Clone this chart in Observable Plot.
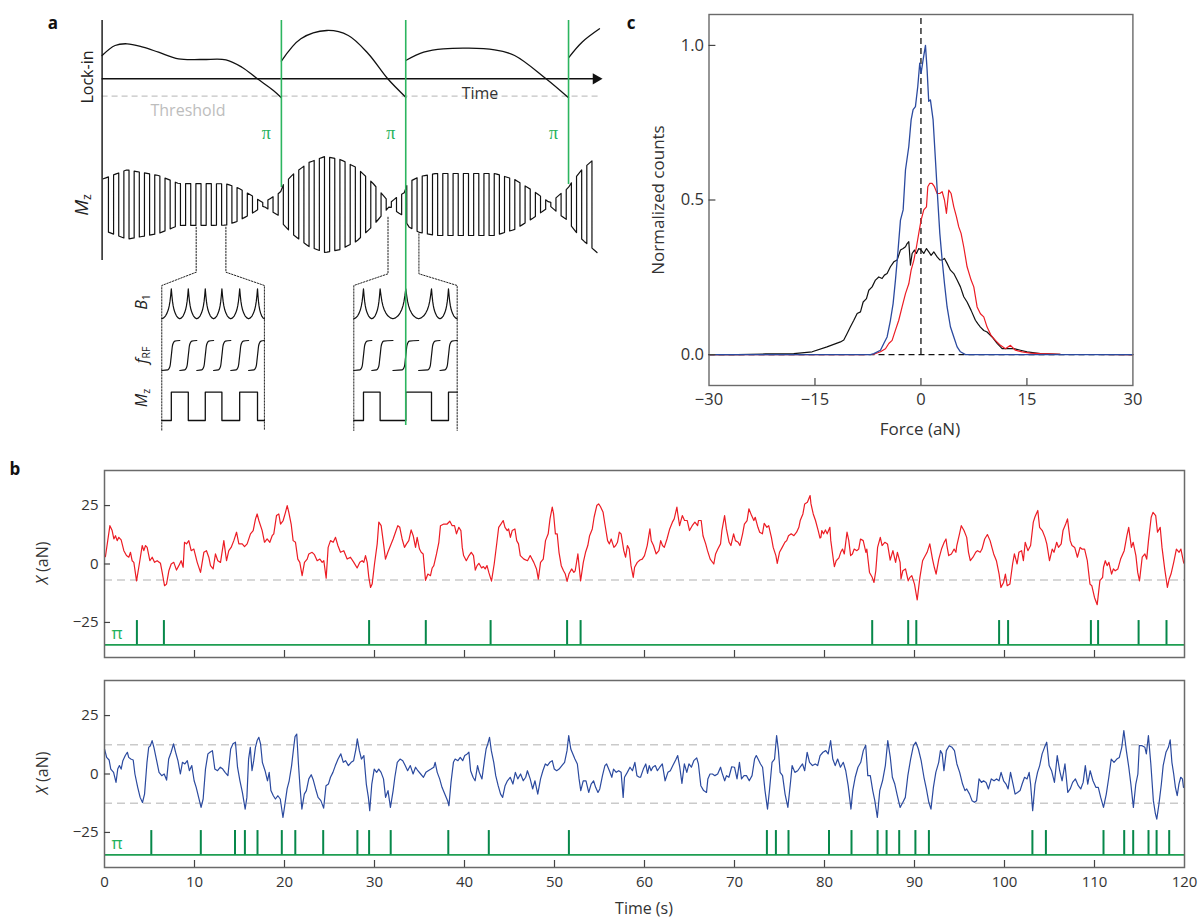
<!DOCTYPE html>
<html><head><meta charset="utf-8">
<script src="https://cdn.jsdelivr.net/npm/d3@7"></script>
<script src="https://cdn.jsdelivr.net/npm/@observablehq/plot@0.6"></script>
<style>
body{margin:0;background:#fff;}
#fig{position:relative;width:1198px;height:919px;overflow:hidden;font-family:"Open Sans",sans-serif;color:#333;background:#fff;}
.lab{position:absolute;white-space:nowrap;transform:translate(-50%,-50%);line-height:1;}
.rot{transform:translate(-50%,-50%) rotate(-90deg);}
.pl{font-weight:bold;font-size:17px;color:#111;}
sub{font-size:65%;vertical-align:-0.25em;font-style:normal;}
</style></head><body><div id="fig"></div>
<script>
// ---------------- DATA ----------------
// Panel b: force traces (time s, X aN)
const redA = [[0.1,3.1],[0.6,16.4],[0.85,14.3],[1.04,10.7],[1.22,12.1],[1.41,10.0],[1.59,11.4],[1.85,10.3],[2.15,5.7],[2.44,3.6],[2.7,2.9],[2.89,5.0],[3.07,1.4],[3.26,0.7],[3.56,-7.2],[3.81,-1.4],[4.19,7.9],[4.37,5.7],[4.56,7.9],[4.74,7.1],[5.04,1.4],[5.3,2.9],[5.56,0.7],[5.85,1.4],[6.22,0.3],[6.41,-3.6],[6.67,-9.3],[6.89,-8.6],[7.15,-2.9],[7.41,0],[7.7,0.7],[8.0,-2.6],[8.26,-0.7],[8.52,1.4],[8.74,-1.4],[8.89,9.3],[9.11,8.6],[9.37,10.0],[9.63,5.7],[9.93,6.4],[10.3,0.7],[10.67,-3.6],[11.04,5.0],[11.33,5.7],[11.59,2.9],[11.78,-0.7],[12.07,-2.1],[12.33,4.3],[12.59,1.4],[12.89,0.7],[13.26,10.0],[13.56,1.4],[13.81,5.7],[14.07,7.1],[14.37,10.0],[14.67,13.6],[14.93,8.6],[15.3,8.6],[15.56,7.4],[15.85,8.6],[16.22,12.9],[16.52,14.3],[16.78,19.3],[16.96,21.4],[17.15,18.6],[17.52,14.3],[17.78,9.3],[18.07,10.7],[18.37,9.3],[18.63,12.1],[18.81,12.9],[19.11,20.7],[19.37,21.4],[19.56,17.1],[19.85,18.6],[20.11,22.1],[20.3,25.0],[20.48,22.1],[20.74,17.1],[20.96,10.0],[21.22,9.3],[21.48,2.1],[21.7,0.7],[21.96,-5.0],[22.22,0.7],[22.52,2.1],[22.7,4.3],[23.07,5.0],[23.33,4.0],[23.63,1.4],[23.93,2.1],[24.19,0.7],[24.37,1.4],[24.63,-6.1],[24.85,7.1],[25.11,10.0],[25.41,9.3],[25.67,11.4],[25.93,7.9],[26.22,5.0],[26.59,5.7],[26.96,2.1],[27.33,2.9],[27.7,0.7],[28.07,-1.7],[28.37,0.7],[28.63,1.4],[28.81,0.7],[29.0,3.6],[29.19,0.7],[29.37,-5.7],[29.56,-10.0],[29.74,-8.6],[30.0,0],[30.3,8.6],[30.48,17.9],[30.74,16.4],[30.96,10.0],[31.22,2.1],[31.48,5.0],[31.78,7.9],[32.07,10.7],[32.33,13.6],[32.59,16.4],[32.81,15.7],[33.07,10.7],[33.33,7.1],[33.56,8.6],[33.81,10.0],[34.07,14.6],[34.3,12.1],[34.56,7.1],[34.74,11.4],[35.0,6.4],[35.19,5.0],[35.41,4.3],[35.67,-7.0],[35.93,-4.3],[36.22,-5.0],[36.41,-1.7],[36.59,-0.7],[36.89,4.3],[37.15,9.3],[37.33,16.4],[37.7,17.1],[38.07,17.1],[38.37,18.3],[38.63,16.4],[38.89,16.4],[39.11,12.9],[39.37,15.7]];
const redB = [[39.6,14.3],[39.75,7.1],[39.9,3.6],[40.2,1.4],[40.5,3.6],[40.75,5.0],[41.0,3.6],[41.2,-2.6],[41.4,-0.7],[41.6,0.3],[41.9,-1.7],[42.1,-1.1],[42.3,-2.1],[42.5,-0.7],[42.7,-3.6],[43.0,-7.3],[43.3,0],[43.6,9.3],[43.8,15.7],[44.1,17.4],[44.3,18.6],[44.5,15.7],[44.75,14.3],[44.9,15.0],[45.1,11.4],[45.3,14.3],[45.6,15.0],[45.8,10.0],[46.0,8.6],[46.2,3.6],[46.6,2.1],[47.0,1.4],[47.3,3.6],[47.7,0.7],[48.0,-2.1],[48.2,-6.5],[48.45,0.7],[48.75,2.1],[49.0,10.0],[49.3,12.9],[49.5,19.3],[49.75,24.3],[49.9,21.4],[50.1,12.9],[50.3,12.9],[50.5,5.0],[50.75,-0.7],[51.0,-2.9],[51.2,-4.3],[51.4,-7.4],[51.6,-4.3],[51.9,-2.1],[52.15,-3.6],[52.3,-2.9],[52.6,4.3],[52.9,-7.2],[53.2,0.7],[53.45,5.0],[53.7,7.9],[53.9,12.1],[54.2,15.0],[54.4,20.0],[54.7,25.0],[54.9,25.7],[55.1,24.6],[55.4,22.1],[55.6,17.1],[55.9,10.0],[56.1,8.6],[56.3,10.7],[56.6,7.1],[56.8,7.9],[57.0,9.3],[57.2,13.6],[57.4,12.9],[57.7,5.7],[57.9,2.9],[58.1,7.9],[58.3,6.4],[58.5,-0.7],[58.75,-5.7],[58.9,-1.4],[59.2,0.7],[59.5,1.7],[59.75,2.1],[60.0,3.6],[60.3,7.9],[60.6,15.0],[60.75,10.0],[61.0,7.9],[61.3,4.3],[61.6,5.7],[61.8,10.0],[62.0,7.9],[62.2,7.1],[62.5,10.7],[62.8,15.0],[63.1,17.9],[63.3,19.3],[63.6,24.3],[63.7,21.4],[63.9,16.4],[64.2,20.7],[64.45,18.6],[64.75,18.6],[65.0,14.3],[65.3,16.4],[65.6,17.9],[65.9,16.4],[66.0,18.6],[66.3,18.6],[66.5,12.1],[66.8,8.6],[67.0,5.7],[67.3,2.1],[67.7,0],[67.9,4.3],[68.15,6.4],[68.45,8.6],[68.6,14.3],[68.9,20.7],[69.1,15.0],[69.4,9.3],[69.6,7.9],[69.9,12.9],[70.1,10.0],[70.4,9.3],[70.6,7.9],[70.9,12.9],[71.1,17.1],[71.4,18.6],[71.6,23.6],[71.9,20.7],[72.15,18.6],[72.3,20.0],[72.6,15.7],[72.8,13.6],[73.1,12.9],[73.3,17.4],[73.6,15.7],[73.8,16.4],[74.1,11.4],[74.3,7.1],[74.6,3.6],[74.75,0.3],[75.0,5.0],[75.3,7.1],[75.6,9.3],[75.8,10.0],[76.0,12.1],[76.3,12.9],[76.6,12.1],[76.9,13.6],[77.15,15.7],[77.3,18.6],[77.6,21.4],[77.8,25.7],[78.1,26.4],[78.4,29.3],[78.5,25.7],[78.75,21.4],[79.0,18.6],[79.3,14.3],[79.5,11.1]];
const redC = [[79.6,11.4],[79.7,14.3],[79.9,12.9],[80.1,14.6],[80.3,12.9],[80.6,15.7],[80.7,10.0],[81.0,1.4],[81.1,-1.1],[81.3,1.4],[81.6,2.6],[81.8,5.0],[82.0,6.4],[82.2,4.3],[82.5,13.6],[82.7,10.0],[82.9,3.6],[83.1,4.3],[83.3,6.4],[83.6,5.7],[83.8,6.4],[84.0,10.7],[84.3,10.0],[84.6,5.0],[84.7,6.4],[85.0,-3.6],[85.3,-5.7],[85.5,-7.9],[85.7,-2.9],[85.9,7.1],[86.2,11.4],[86.4,7.9],[86.7,9.3],[87.0,8.6],[87.3,1.7],[87.6,5.7],[87.9,0.7],[88.1,5.0],[88.4,0.7],[88.5,-6.4],[88.7,-2.9],[89.0,-2.1],[89.3,-7.2],[89.5,-5.7],[89.7,-5.0],[90.0,-8.6],[90.3,-15.4],[90.6,-5.7],[90.9,1.4],[91.1,2.9],[91.4,5.0],[91.7,8.6],[92.0,2.1],[92.2,-1.4],[92.4,-4.3],[92.7,2.1],[93.0,6.4],[93.3,9.3],[93.5,10.7],[93.6,7.9],[93.8,3.6],[94.1,4.3],[94.4,6.4],[94.6,5.0],[94.7,7.9],[95.0,12.9],[95.2,16.4],[95.5,14.3],[95.8,11.4],[96.0,5.0],[96.2,1.4],[96.5,2.9],[96.8,5.0],[97.0,5.7],[97.3,5.0],[97.5,6.4],[97.8,10.7],[98.1,12.6],[98.4,10.0],[98.6,7.1],[98.8,4.3],[99.1,1.4],[99.4,-4.3],[99.6,-10.0],[99.9,-7.9],[100.1,-4.3],[100.3,-9.3],[100.6,-8.6],[100.9,0],[101.1,4.3],[101.4,0],[101.6,5.0],[101.9,5.7],[102.1,1.4],[102.3,9.3],[102.6,5.7],[102.9,7.9],[103.2,17.9],[103.4,20.3],[103.7,22.9],[103.9,15.7],[104.2,14.3],[104.5,11.4],[104.7,8.6],[105.0,1.4],[105.3,6.4],[105.5,5.0],[105.8,9.3],[106.0,7.1],[106.3,8.6],[106.5,14.3],[106.8,17.1],[107.0,19.3],[107.3,10.0],[107.5,7.9],[107.8,7.1],[108.1,2.9],[108.4,7.1],[108.6,6.4],[108.9,6.4],[109.2,1.4],[109.5,-8.6],[109.7,-9.3],[110.0,-14.3],[110.3,-17.4],[110.6,-7.1],[110.9,-5.7],[111.0,-1.4],[111.2,1.4],[111.4,-0.7],[111.6,0.7],[111.9,-4.3],[112.1,-2.1],[112.3,-2.9],[112.6,-2.1],[112.9,2.1],[113.3,5.7],[113.6,12.1],[113.8,15.7],[114.1,7.1],[114.3,9.3],[114.6,3.6],[114.8,-3.6],[115.0,-7.2],[115.3,2.9],[115.6,4.3],[115.8,2.1],[116.0,10.0],[116.3,20.0],[116.5,22.1],[116.8,20.7],[117.0,13.6],[117.3,15.7],[117.5,7.1],[117.8,-2.1],[118.1,-10.0],[118.3,-6.4],[118.5,-4.3],[118.8,0.7],[119.1,6.4],[119.4,5.0],[119.6,6.4],[119.9,0.7],[120.0,0]];
const blueA = [[0.0,10.7],[0.24,7.1],[0.51,6.0],[0.7,2.1],[1.01,0.7],[1.28,-3.6],[1.47,2.1],[1.66,3.6],[1.85,2.1],[2.04,5.7],[2.31,7.9],[2.54,9.3],[2.69,7.1],[2.92,6.4],[3.19,6.0],[3.38,0],[3.69,-5.7],[3.96,-10.0],[4.22,-12.2],[4.45,-8.6],[4.72,5.0],[4.91,11.4],[5.1,12.1],[5.29,14.3],[5.49,11.4],[5.76,6.4],[6.06,0.7],[6.36,-0.7],[6.63,0],[6.9,-2.6],[7.13,6.4],[7.4,9.3],[7.67,12.9],[7.9,9.3],[8.16,5.7],[8.43,0],[8.66,5.0],[8.93,4.3],[9.2,5.7],[9.43,1.4],[9.7,3.6],[9.96,-2.9],[10.19,-5.7],[10.46,-10.0],[10.73,-14.3],[10.96,-10.7],[11.22,2.1],[11.49,8.6],[11.72,9.3],[11.99,10.0],[12.26,2.1],[12.56,1.4],[12.87,2.9],[13.14,2.1],[13.4,0.7],[13.71,-0.7],[14.02,10.7],[14.28,12.9],[14.55,13.6],[14.78,2.9],[15.05,-2.9],[15.32,-7.9],[15.63,-15.0],[15.82,-10.0],[16.01,6.4],[16.2,11.4],[16.39,1.4],[16.58,5.7],[16.77,11.4],[16.96,14.3],[17.15,15.7],[17.34,12.9],[17.54,5.0],[17.84,1.4],[18.11,-2.9],[18.3,0.7],[18.49,-7.1],[18.76,-9.3],[18.99,-10.7],[19.26,-9.3],[19.53,-10.7],[19.83,-18.6],[20.02,-13.6],[20.29,-6.4],[20.52,-2.9],[20.79,3.6],[20.98,10.0],[21.17,16.0],[21.36,17.1],[21.55,4.3],[21.74,-6.4],[21.93,-15.0],[22.2,-8.6],[22.43,-7.1],[22.7,-2.1],[22.97,-0.3],[23.2,-2.6],[23.46,-6.4],[23.73,-10.0],[24.04,-11.4],[24.35,-14.6],[24.61,-5.0],[24.88,-4.3],[25.11,-1.4],[25.38,0.7],[25.65,3.6],[25.95,6.4],[26.26,8.6],[26.53,5.0],[26.79,5.7],[27.1,3.6],[27.41,5.0],[27.68,5.7],[27.94,10.7],[28.09,15.0],[28.32,10.0],[28.55,6.4],[28.82,7.9],[29.09,-4.3],[29.32,-10.0],[29.47,-15.7],[29.7,-4.3],[29.97,2.1],[30.24,0.7],[30.47,2.1],[30.73,0.7],[31.0,-2.1],[31.23,-10.0],[31.5,-7.1],[31.77,-14.3],[32.07,-7.1],[32.26,-1.4],[32.53,5.0],[32.84,6.4],[33.14,5.7],[33.41,3.6],[33.68,1.4],[33.98,3.6],[34.29,0],[34.56,2.9],[34.82,1.4],[35.13,0],[35.44,-1.4],[35.71,0.7],[35.97,1.4],[36.28,2.1],[36.59,2.9],[36.74,5.0],[36.97,0.7],[37.24,-2.1],[37.5,-5.7],[37.81,-8.6],[38.12,-11.4],[38.27,-13.6],[38.5,-3.6],[38.77,5.0],[38.96,6.4],[39.27,5.7],[39.53,7.1],[39.8,5.7],[40.03,7.9],[40.3,8.6],[40.49,9.3],[40.68,1.4],[40.95,-1.4],[41.18,-2.9],[41.45,3.6],[41.64,0.7],[41.94,-2.1],[42.21,5.7],[42.4,10.7],[42.59,12.9],[42.78,15.7],[42.98,10.0],[43.25,5.0],[43.47,-0.7],[43.74,-5.0],[44.01,-8.6],[44.24,-10.0],[44.51,-5.0],[44.77,-2.9],[45.08,-1.4],[45.38,-4.3],[45.65,0.7],[45.92,-2.1],[46.23,0],[46.53,-2.9],[46.8,-1.4],[46.99,1.4],[47.3,-2.1],[47.57,-6.4],[47.83,-2.9],[48.14,-8.6],[48.45,-2.1],[48.71,1.4],[48.98,4.3],[49.21,3.6],[49.48,5.0],[49.75,5.7],[49.98,2.1],[50.24,1.4],[50.51,2.1],[50.82,3.6],[51.12,5.0],[51.39,10.0],[51.58,16.4],[51.81,10.7],[52.04,8.6],[52.27,6.4],[52.54,4.3],[52.73,-2.1],[52.92,-7.1],[53.19,-2.9],[53.5,-2.9],[53.8,-7.9],[54.07,-4.3],[54.34,-2.9],[54.57,-5.7],[54.83,-7.9],[55.03,-6.4],[55.33,-0.7],[55.6,3.6],[55.79,4.3],[56.1,1.4],[56.37,-1.4],[56.56,2.1],[56.86,0.7],[57.13,1.4],[57.4,0.7],[57.63,-10.0],[57.78,-1.4],[58.09,0.7],[58.39,2.9],[58.66,1.4],[58.93,5.0],[59.16,-0.7],[59.43,-1.4]];
const blueB = [[59.56,-1.4],[59.87,2.1],[60.14,4.3],[60.34,0.3],[60.53,3.6],[60.73,1.4],[60.92,2.9],[61.2,3.6],[61.43,1.4],[61.7,2.9],[61.98,4.3],[62.29,-2.9],[62.6,0.7],[62.87,1.4],[63.15,3.6],[63.46,6.0],[63.69,7.9],[63.92,2.9],[64.16,-4.0],[64.43,4.3],[64.7,0.7],[64.94,4.3],[65.21,2.9],[65.48,5.7],[65.8,6.9],[65.99,4.3],[66.26,-5.0],[66.57,-7.1],[66.89,-7.9],[67.04,-2.1],[67.28,0],[67.55,0],[67.82,-0.7],[68.13,0],[68.45,2.9],[68.6,0.7],[68.91,-2.9],[69.11,-0.7],[69.38,-1.4],[69.69,3.1],[70.0,2.9],[70.28,-2.1],[70.55,5.0],[70.78,-2.1],[71.06,-0.7],[71.33,-0.7],[71.64,-2.9],[71.95,-0.7],[72.23,6.4],[72.42,7.9],[72.62,6.4],[72.89,4.3],[73.12,2.9],[73.39,-7.1],[73.67,-15.0],[73.9,-6.4],[74.17,5.0],[74.45,6.4],[74.68,16.4],[74.88,10.0],[75.07,0.7],[75.34,-0.7],[75.62,-8.6],[75.93,-14.3],[76.24,-2.9],[76.4,3.6],[76.71,0.7],[77.02,1.4],[77.29,2.9],[77.56,4.3],[77.8,1.4],[78.07,9.3],[78.34,5.0],[78.66,3.6],[78.97,4.3],[79.24,3.6],[79.51,7.9],[79.83,9.3],[80.14,10.0],[80.41,8.6],[80.68,14.3],[80.92,6.4],[81.19,3.6],[81.46,6.4],[81.77,2.9],[82.09,5.0],[82.36,1.4],[82.63,-5.0],[82.94,-15.0],[83.14,-7.1],[83.41,-1.4],[83.72,2.9],[84.03,5.0],[84.31,10.0],[84.58,12.3],[84.81,-0.7],[85.09,-0.7],[85.36,-7.1],[85.59,-11.4],[85.87,-18.6],[86.14,-7.1],[86.45,-2.9],[86.76,3.6],[87.03,14.3],[87.31,7.1],[87.54,-1.4],[87.81,-4.3],[88.09,-9.3],[88.4,-14.3],[88.71,-12.1],[88.98,-10.0],[89.26,-0.7],[89.57,6.4],[89.88,12.1],[90.15,13.6],[90.43,10.7],[90.74,5.7],[91.05,-1.4],[91.32,-6.4],[91.59,-12.1],[91.83,-15.0],[92.1,-5.7],[92.37,0.7],[92.69,5.0],[92.88,10.0],[93.08,8.6],[93.27,1.4],[93.54,10.0],[93.85,12.1],[94.17,11.4],[94.44,10.0],[94.71,4.3],[95.02,0.7],[95.34,-4.3],[95.61,-7.1],[95.8,-6.4],[96.12,-8.6],[96.39,-11.4],[96.66,-12.1],[96.9,-11.4],[97.17,-2.1],[97.44,-3.6],[97.67,-2.9],[97.95,-3.6],[98.22,-6.4],[98.53,-2.1],[98.84,-2.9],[99.12,-2.1],[99.39,-2.9],[99.62,0.7],[99.9,-2.9],[100.17,-4.3],[100.4,-6.4],[100.67,0.7],[100.95,-4.3],[101.18,-8.6],[101.45,-7.9],[101.73,-7.1],[101.96,-4.3],[102.23,-1.4],[102.51,-2.1],[102.74,0.7],[102.9,-4.3],[103.13,-15.7],[103.4,-4.3],[103.67,0.7],[103.91,3.6],[104.18,8.6],[104.45,11.4],[104.69,13.6],[104.96,3.6],[105.23,1.4],[105.55,-3.6],[105.86,7.9],[106.13,1.4],[106.4,-2.9],[106.72,4.3],[107.03,-7.9],[107.3,-6.4],[107.57,-3.6],[107.88,-2.1],[108.2,-5.0],[108.47,-6.4],[108.74,-3.6],[108.98,3.6],[109.25,-4.3],[109.52,1.4],[109.83,-2.9],[110.15,-5.7],[110.42,-5.7],[110.69,-10.0],[111.0,-14.3],[111.31,-8.6],[111.59,-1.4],[111.86,6.4],[112.17,5.0],[112.48,6.4],[112.76,7.1],[113.03,11.4],[113.26,18.6],[113.54,10.0],[113.81,2.9],[114.04,-4.3],[114.32,-14.3],[114.59,-4.3],[114.82,0],[114.98,12.1],[115.29,12.1],[115.6,11.4],[115.76,8.6],[115.99,16.4],[116.26,4.3],[116.54,-11.4],[116.77,-17.1],[116.92,-19.3],[117.16,-12.9],[117.43,-4.3],[117.63,3.6],[117.94,9.3],[118.21,11.4],[118.41,14.6],[118.6,5.0],[118.8,0],[118.99,-5.7],[119.19,-9.3],[119.38,-4.3],[119.58,-1.4],[119.77,-2.1],[119.89,-5.7]];
const pulsesRed = [3.6,6.6,29.4,35.7,42.9,51.4,52.9,85.3,89.3,90.2,99.4,100.4,109.6,110.4,114.9,118.0];
const pulsesBlue = [5.2,10.7,14.5,15.6,17.0,19.7,21.2,24.3,28.1,29.4,31.8,38.2,42.7,51.6,73.6,74.6,76.0,80.5,83.0,85.9,86.9,88.3,90.1,91.6,103.1,104.6,111.0,113.3,114.3,116.0,116.9,118.3];
const thresholdRed = [-6.8];
const thresholdBlue = [12.5, -12.5];
const pulseBase = -34.6, pulseTop = -24.2;
const bTimeTicks = [0,10,20,30,40,50,60,70,80,90,100,110,120];
const bValueTicks = [-25,0,25];

// Panel c: histograms (force aN, normalized counts)
const histBlack = [[-30,0],[-26,0],[-22,0.002],[-18,0.003],[-15.4,0.009],[-13.3,0.025],[-11.39,0.041],[-10.92,0.047],[-10.45,0.068],[-9.98,0.09],[-9.5,0.111],[-9.03,0.133],[-8.56,0.138],[-8.18,0.17],[-7.71,0.181],[-7.38,0.208],[-6.91,0.219],[-6.44,0.241],[-5.97,0.251],[-5.5,0.246],[-5.17,0.257],[-4.79,0.262],[-4.32,0.284],[-3.84,0.3],[-3.37,0.306],[-2.9,0.338],[-2.52,0.343],[-2.19,0.349],[-1.96,0.359],[-1.72,0.365],[-1.49,0.289],[-1.25,0.327],[-0.92,0.338],[-0.64,0.327],[-0.31,0.343],[0.02,0.338],[0.4,0.327],[0.78,0.343],[1.11,0.332],[1.44,0.321],[1.82,0.332],[2.29,0.316],[2.67,0.306],[3.0,0.306],[3.33,0.311],[3.7,0.295],[4.17,0.273],[4.65,0.262],[5.12,0.241],[5.59,0.219],[6.06,0.187],[6.53,0.17],[7.1,0.143],[7.71,0.111],[8.04,0.1],[8.42,0.089],[8.89,0.078],[9.36,0.073],[10.07,0.057],[10.78,0.036],[11.49,0.019],[12.19,0.019],[13.14,0.019],[14.08,0.014],[15.02,0.009],[16.91,0.003],[19.74,0.001],[30,0]];
const histRed = [[-30,0],[-8,0],[-6.67,0.001],[-5.73,0.009],[-5.02,0.019],[-4.55,0.036],[-4.08,0.046],[-3.61,0.079],[-3.14,0.111],[-2.67,0.154],[-2.19,0.197],[-1.72,0.229],[-1.39,0.273],[-1.01,0.305],[-0.64,0.348],[-0.31,0.392],[0.02,0.435],[0.4,0.468],[0.78,0.478],[0.97,0.543],[1.25,0.554],[1.58,0.554],[1.91,0.543],[2.29,0.521],[2.67,0.521],[3.0,0.527],[3.33,0.5],[3.61,0.457],[3.94,0.532],[4.27,0.521],[4.65,0.478],[5.02,0.446],[5.35,0.413],[5.68,0.392],[6.06,0.348],[6.53,0.284],[7.1,0.241],[7.48,0.219],[7.95,0.154],[8.42,0.132],[8.89,0.122],[9.36,0.089],[9.93,0.062],[10.54,0.046],[11.25,0.03],[11.96,0.019],[12.67,0.03],[13.37,0.014],[14.32,0.009],[15.5,0.005],[16.91,0.003],[19.74,0.001],[30,0]];
const histBlue = [[-30,0],[-7.15,0],[-6.67,0.003],[-5.73,0.014],[-5.26,0.036],[-4.79,0.057],[-4.32,0.111],[-3.94,0.165],[-3.61,0.241],[-3.28,0.327],[-2.9,0.435],[-2.52,0.468],[-2.19,0.597],[-1.72,0.673],[-1.39,0.759],[-1.11,0.792],[-0.78,0.802],[-0.45,0.867],[-0.17,0.943],[0.02,0.91],[0.31,0.954],[0.64,1.0],[0.87,0.921],[1.1,0.819],[1.34,0.824],[1.72,0.759],[2.05,0.63],[2.38,0.5],[2.67,0.392],[3.0,0.306],[3.33,0.23],[3.7,0.154],[4.17,0.09],[4.65,0.057],[5.12,0.025],[5.59,0.009],[6.3,0],[30,0]];
const cForceTicks = [-30,-15,0,15,30];
const cCountTicks = [0,0.5,1];

// Panel a: schematic (tau = arbitrary time units, level = vertical position units)
const lockinSegs = [
  [[0,55],[2.6,45],[5,43.3],[8.2,46.7],[11.3,51.7],[15.3,58.3],[20,59],[24.8,59.3],[28,66.7],[31.1,78.3],[34.3,90],[35.9,97.3]],
  [[35.9,60.7],[39.8,38.3],[45,30],[49.3,35],[53.3,53.3],[57.2,78.3],[60.8,96.7]],
  [[60.8,60],[64.4,51.7],[68.3,48.3],[78.6,49.3],[82.6,55],[88.9,78.3],[93.4,97.3]],
  [[93.4,57.3],[96.1,41.7],[99.6,28.3]]
];
const piPulses = [{t:35.9,end:187},{t:60.8,end:425},{t:93.4,end:184}];
const mzEnv = [[0.24,25.7],[5,34.7],[11.3,29],[15.3,21],[24.8,20.7],[27.2,16.7],[30.3,8],[32.3,1.5],[34.3,8],[35.7,12],[36.3,20],[38.2,30],[41.4,42],[44.6,48],[47.7,45],[50.9,37],[54.1,22],[56.5,8],[57.6,1.5],[59.2,8],[60.6,12],[61.2,22],[63.6,28],[66.8,31],[78.6,31],[82.6,25],[86.5,13],[89.7,1.5],[92.1,12],[93.3,16],[93.7,20],[96.1,35],[99.1,48]];
const mzCenter = 204, mzHalfPeriod = 1.03;
const insetWindows = [[11.95,32.5],[50.4,71.1]];
const insetPeaks = [[13.86,17.26,20.66,23.99,27.55,31.12],[52.34,55.67,60.81,65.96,69.36]];
const rowB1 = [288.3,318.3], rowFrf = [340,370], rowMz = [391.7,420];
const b1Shape = [[-1,0],[-0.8,0.03],[-0.6,0.1],[-0.45,0.19],[-0.32,0.3],[-0.22,0.43],[-0.14,0.58],[-0.07,0.77],[0,1]];
const frfShape = [[-0.7,0.02],[-0.4,0.08],[-0.2,0.2],[-0.08,0.38],[0,0.5],[0.08,0.62],[0.2,0.8],[0.4,0.92],[0.7,0.98]];
const dottedLinks = [
  [[18.84,226.7],[18.84,271.7],[11.95,285],[11.95,430]],
  [[24.79,226.7],[24.79,271.7],[32.5,285],[32.5,430]],
  [[57.25,216.7],[57.25,273.3],[50.4,285],[50.4,430]],
  [[63.44,233.3],[63.44,273.3],[71.1,285],[71.1,430]]
];
const timeAxisLevel = 78.3, thresholdLevel = 95.7;

// ---------------- STYLE ----------------
const RED = "#ec1c24", BLUE = "#2b4a9f", GREEN = "#1e9e52", PULSE = "#07884a", PIG = "#1fb25c", AGREEN = "#2cb55f";
const FONT = '"Open Sans", sans-serif';
const SERIF = '"Liberation Serif", "DejaVu Serif", serif';
const fig = document.getElementById("fig");
function place(el, x, y){ el.style.position="absolute"; el.style.left=x+"px"; el.style.top=y+"px"; fig.appendChild(el); }
function label(html, x, y, css, cls){ const d=document.createElement("div"); d.className="lab"+(cls?" "+cls:""); d.innerHTML=html; d.style.left=x+"px"; d.style.top=y+"px"; Object.assign(d.style, css||{}); fig.appendChild(d); }
const pts = arr => arr.map(([x,y])=>({x,y}));

// ---------------- PANEL A ----------------
function envAt(t){ for(let i=1;i<mzEnv.length;i++){ if(t<=mzEnv[i][0]){ const [t0,a0]=mzEnv[i-1],[t1,a1]=mzEnv[i]; return a0+(a1-a0)*(t-t0)/(t1-t0);} } return mzEnv[mzEnv.length-1][1]; }
const mzLine=[]; { const t0=mzEnv[0][0], tEnd=mzEnv[mzEnv.length-1][0]; let s=1;
  for(let t=t0; t<tEnd-1e-6; t+=mzHalfPeriod){ const t2=Math.min(t+mzHalfPeriod,tEnd); const tm=(t+t2)/2;
    mzLine.push({x:t,y:mzCenter-s*envAt(t)},{x:tm,y:mzCenter-s*envAt(tm)},{x:t2,y:mzCenter-s*envAt(t2)}); s=-s; } }
const b1Line=[], frfSegs=[], mzStep=[];
insetWindows.forEach(([ws,we],w)=>{
  const pk=insetPeaks[w];
  pk.forEach((c,i)=>{
    const hl = i===0 ? c-ws : (c-pk[i-1])/2;
    const hr = i===pk.length-1 ? we-c : (pk[i+1]-c)/2;
    b1Shape.forEach(([u,v],j)=>{ if(i>0 && j===0) return; b1Line.push({x:c+u*hl,y:rowB1[1]-v*(rowB1[1]-rowB1[0]),w}); });
    b1Shape.slice(0,-1).reverse().forEach(([u,v])=>{ b1Line.push({x:c-u*hr,y:rowB1[1]-v*(rowB1[1]-rowB1[0]),w}); });
    const seg=[{x:c-hl,v:0}].concat(frfShape.map(([u,v])=>({x:c+u,v}))).concat([{x:c+hr,v:1}]);
    seg.forEach(p=>frfSegs.push({x:p.x,y:rowFrf[1]-p.v*(rowFrf[1]-rowFrf[0]),k:w*10+i}));
  });
  let high=false; mzStep.push({x:ws,y:rowMz[1],w});
  pk.forEach(c=>{ mzStep.push({x:c,y:high?rowMz[0]:rowMz[1],w}); high=!high; mzStep.push({x:c,y:high?rowMz[0]:rowMz[1],w}); });
  mzStep.push({x:we,y:high?rowMz[0]:rowMz[1],w});
});
const dottedPts = dottedLinks.flatMap((l,k)=>l.map(([x,y])=>({x,y,k})));
const lockPts = lockinSegs.flatMap((s,k)=>s.map(([x,y])=>({x,y,k})));

const plotA = Plot.plot({
  width:620, height:440, margin:0,
  x:{domain:[0,100], range:[101.6,601], axis:null},
  y:{domain:[0,440], range:[0,440], axis:null},
  style:{fontFamily:FONT, background:"transparent", overflow:"visible"},
  marks:[
    Plot.ruleY([thresholdLevel],{y:d=>d, x1:()=>0, x2:()=>100, stroke:"#c4c4c4", strokeWidth:1.3, strokeDasharray:"6,4"}),
    Plot.ruleY([timeAxisLevel],{y:d=>d, x1:()=>0, x2:()=>98.6, stroke:"#111", strokeWidth:1.4}),
    Plot.dot([timeAxisLevel],{y:d=>d, x:()=>98.9, symbol:"triangle", r:4.2, fill:"#111", stroke:null, rotate:90}),
    Plot.ruleX([0],{x:d=>d, y1:()=>20, y2:()=>260, stroke:"#111", strokeWidth:1.4}),
    Plot.line(lockPts,{x:"x", y:"y", z:"k", curve:"catmull-rom", stroke:"#111", strokeWidth:1.3}),
    Plot.line(mzLine,{x:"x", y:"y", stroke:"#111", strokeWidth:1.2}),
    Plot.line(dottedPts,{x:"x", y:"y", z:"k", stroke:"#222", strokeWidth:1, strokeDasharray:"1.5,1.5"}),
    Plot.line(b1Line,{x:"x", y:"y", z:"w", stroke:"#111", strokeWidth:1.2}),
    Plot.line(frfSegs,{x:"x", y:"y", z:"k", curve:"monotone-x", stroke:"#111", strokeWidth:1.2}),
    Plot.line(mzStep,{x:"x", y:"y", z:"w", stroke:"#111", strokeWidth:1.3}),
    Plot.ruleX(piPulses,{x:"t", y1:()=>20, y2:"end", stroke:AGREEN, strokeWidth:1.6}),
    Plot.text(piPulses,{x:"t", y:()=>133, text:()=>"π", dx:-15, fill:PIG, fontSize:18, fontFamily:SERIF})
  ]
});
place(plotA,0,0);

// ---------------- PANEL C ----------------
const plotC = Plot.plot({
  width:578, height:440, marginLeft:88.5, marginRight:65.6, marginTop:14, marginBottom:55,
  x:{domain:[-30,30], ticks:cForceTicks, tickSize:0, tickPadding:8, label:null},
  y:{domain:[-0.1,1.1], ticks:cCountTicks, tickFormat:d3.format(".1f"), tickSize:0, tickPadding:5, label:null},
  style:{fontFamily:FONT, fontSize:"16.5px", color:"#333", background:"transparent", overflow:"visible"},
  marks:[
    Plot.ruleY([0],{y:d=>d, stroke:"#111", strokeWidth:1.3, strokeDasharray:"6,4"}),
    Plot.ruleX([0],{x:d=>d, y1:()=>0, y2:()=>1.1, stroke:"#111", strokeWidth:1.3, strokeDasharray:"6,4"}),
    Plot.line(pts(histBlack),{x:"x", y:"y", stroke:"#111", strokeWidth:1.2}),
    Plot.line(pts(histRed),{x:"x", y:"y", stroke:RED, strokeWidth:1.2}),
    Plot.line(pts(histBlue),{x:"x", y:"y", stroke:BLUE, strokeWidth:1.3}),
    Plot.frame({stroke:"#6a6a6a", strokeWidth:1.4}),
    Plot.tickX(cForceTicks.slice(1,-1),{x:d=>d, insetTop:364, stroke:"#444", strokeWidth:1.2}),
    Plot.tickY(cCountTicks,{y:d=>d, insetRight:417, stroke:"#444", strokeWidth:1.2})
  ]
});
place(plotC,620,0);

// ---------------- PANEL B ----------------
function panelB(series, color, pulses, thresholds, showX){
  const data = series.flat().map(([t,v])=>({t,v}));
  const H = showX ? 249 : 200, mB = showX ? 52 : 3;
  return Plot.plot({
    width:1198, height:H, marginLeft:104, marginRight:14, marginTop:10, marginBottom:mB,
    x: showX ? {domain:[0,120], ticks:bTimeTicks, tickSize:0, tickPadding:9, label:null} : {domain:[0,120], axis:null},
    y:{domain:[-40,40], ticks:bValueTicks, tickSize:0, tickPadding:6, label:null},
    style:{fontFamily:FONT, fontSize:"15px", color:"#333", background:"transparent", overflow:"visible"},
    marks:[
      Plot.ruleY(thresholds,{y:d=>d, stroke:"#cacaca", strokeWidth:1.5, strokeDasharray:"8,5"}),
      Plot.ruleY([pulseBase],{y:d=>d, stroke:GREEN, strokeWidth:1.6}),
      Plot.ruleX(pulses,{x:d=>d, y1:()=>pulseBase, y2:()=>pulseTop, stroke:PULSE, strokeWidth:2}),
      Plot.line(data,{x:"t", y:"v", stroke:color, strokeWidth:1.2}),
      Plot.frame({stroke:"#6a6a6a", strokeWidth:1.5}),
      Plot.tickX(bTimeTicks.slice(1,-1),{x:d=>d, insetTop:180, stroke:"#444", strokeWidth:1.2}),
      Plot.tickY(bValueTicks,{y:d=>d, insetRight:1074, stroke:"#444", strokeWidth:1.2})
    ]
  });
}
place(panelB([redA,redB,redC], RED, pulsesRed, thresholdRed, false), 0, 460);
place(panelB([blueA,blueB], BLUE, pulsesBlue, thresholdBlue, true), 0, 670);

// ---------------- TEXT ----------------
label("a",53,22,{},"pl");
label("b",15,468,{},"pl");
label("c",631,22,{},"pl");
label("Lock-in",87,77,{fontSize:"16px",color:"#222"},"rot");
label("Threshold",188,110,{fontSize:"16px",color:"#bdbdbd"});
label("Time",480,93,{fontSize:"16px",color:"#333"});
label("<i>M</i><sub>z</sub>",83,205,{fontSize:"19px",color:"#222"},"rot");
label("<i>B</i><sub>1</sub>",142,302,{fontSize:"16px",color:"#222"},"rot");
label("<i>f</i><sub>RF</sub>",142,355,{fontSize:"16px",color:"#222"},"rot");
label("<i>M</i><sub>z</sub>",142,398,{fontSize:"16px",color:"#222"},"rot");
label("<i>X</i> (aN)",42,563,{fontSize:"16px",color:"#333"},"rot");
label("<i>X</i> (aN)",42,773,{fontSize:"16px",color:"#333"},"rot");
label("π",117,632,{fontSize:"17px",color:PIG});
label("π",117,842,{fontSize:"17px",color:PIG});
label("Time (s)",644,908,{fontSize:"16px",color:"#333"});
label("Normalized counts",657,200,{fontSize:"17px",color:"#333"},"rot");
label("Force (aN)",920,428,{fontSize:"17px",color:"#333"});
</script></body></html>
